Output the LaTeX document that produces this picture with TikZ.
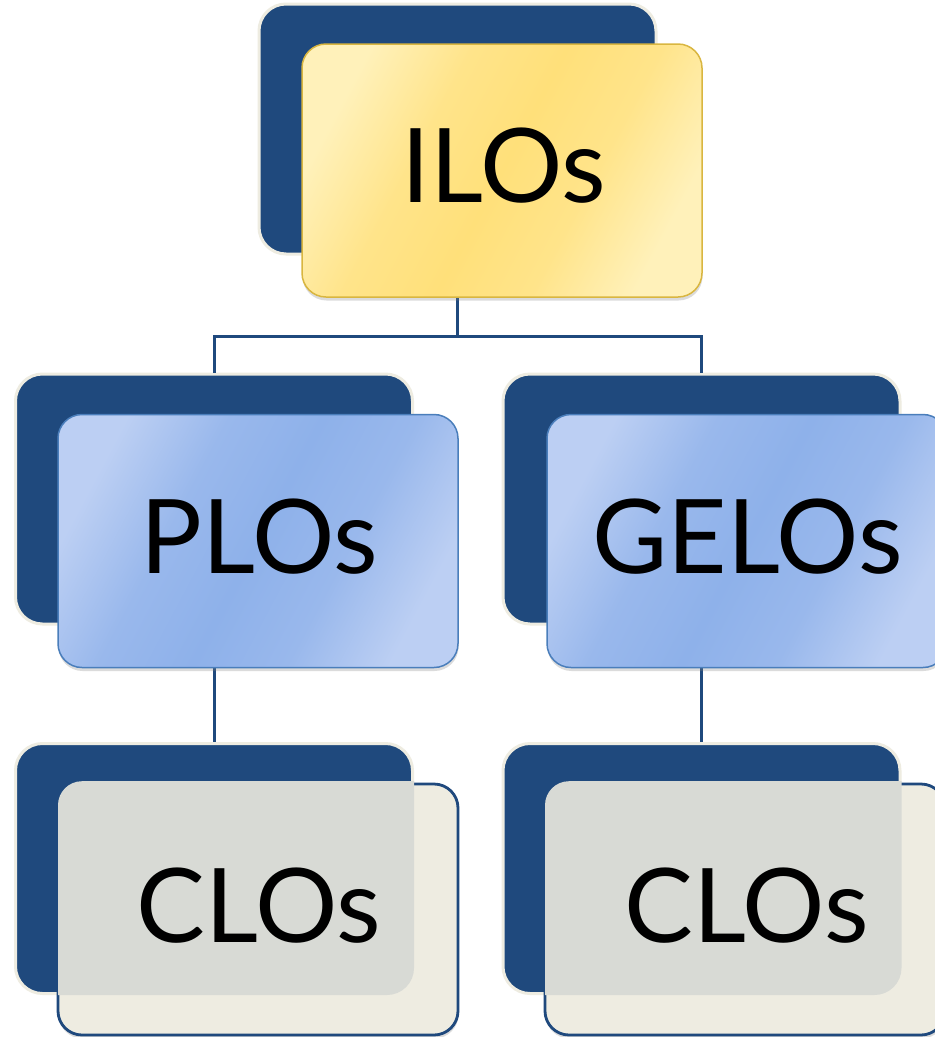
\documentclass[tikz,border=0pt]{standalone}
\usepackage{fontspec}
\setmainfont{Lato}
\usetikzlibrary{shadows}
\definecolor{navy}{HTML}{1F497D}
\definecolor{tanbg}{HTML}{EEECE1}
\definecolor{overgrey}{HTML}{D8DAD5}
\definecolor{ylight}{HTML}{FFF1BA}
\definecolor{ymid}{HTML}{FFE48A}
\definecolor{ydark}{HTML}{FFE07A}
\definecolor{yborder}{HTML}{D9B640}
\definecolor{blight}{HTML}{BCCFF3}
\definecolor{bmid}{HTML}{99B8EC}
\definecolor{bdark}{HTML}{8EB1EA}
\definecolor{bborder}{HTML}{4A7EBB}
\pgfdeclareverticalshading{yshade}{100bp}{color(0bp)=(ylight); color(25bp)=(ylight);
  color(38bp)=(ymid); color(50bp)=(ydark); color(62bp)=(ymid); color(75bp)=(ylight); color(100bp)=(ylight)}
\pgfdeclareverticalshading{bshade}{100bp}{color(0bp)=(blight); color(25bp)=(blight);
  color(38bp)=(bmid); color(50bp)=(bdark); color(62bp)=(bmid); color(75bp)=(blight); color(100bp)=(blight)}
\tikzset{
  backbox/.style={rectangle, rounded corners=27pt, fill=navy, draw=tanbg, line width=3pt,
    minimum width=397pt, minimum height=250pt, inner sep=0pt},
  frontbase/.style={rectangle, rounded corners=24pt, line width=1.5pt,
    minimum width=400pt, minimum height=253pt, inner sep=0pt,
    drop shadow={opacity=0.28, shadow xshift=0.5pt, shadow yshift=-3.5pt}},
  yellowbox/.style={frontbase, draw=yborder, shade, shading=yshade, shading angle=62},
  bluebox/.style={frontbase, draw=bborder, shade, shading=bshade, shading angle=62},
  tanbox/.style={frontbase, draw=navy, fill=tanbg, line width=2.8pt},
  label/.style={font=\fontsize{103}{103}\selectfont, text=black, inner sep=0pt},
  conn/.style={draw=navy, line width=3pt},
}
\begin{document}
\begin{tikzpicture}[x=1pt,y=-1pt]
\useasboundingbox (0,0) rectangle (935,1037);
\clip (0,0) rectangle (935,1037);
\fill[white] (0,0) rectangle (935,1037);

% back boxes
\node[backbox] (ilosB) at (457.5,129) {};
\node[backbox] (plosB) at (214,499) {};
\node[backbox] (gelosB) at (701.5,499) {};
\node[backbox] (closLB) at (214,868.5) {};
\node[backbox] (closRB) at (701.5,868.5) {};

% connectors
\coordinate (j) at (457.5,336);
\draw[conn] (457.5,297) -- (j);
\draw[conn] (plosB.north) |- (j) -| (gelosB.north);
\draw[conn] (214,668) -- (closLB.north);
\draw[conn] (701.5,668) -- (closRB.north);

% front boxes
\node[yellowbox] (ilosF) at (502,170.5) {};
\node[bluebox] (plosF) at (258,541) {};
\node[bluebox] (gelosF) at (747,541) {};
\node[tanbox, minimum height=251pt] (closLF) at (258,909.5) {};
\node[tanbox, minimum height=251pt] (closRF) at (745,909.5) {};

% overlap areas of the CLOs boxes
\begin{scope}
\clip[rounded corners=24pt] ([shift={(1.4pt,-1.4pt)}]closLF.south west) rectangle ([shift={(-1.4pt,1.4pt)}]closLF.north east);
\fill[overgrey, rounded corners=27pt] (closLB.south west) rectangle (closLB.north east);
\end{scope}
\begin{scope}
\clip[rounded corners=24pt] ([shift={(1.4pt,-1.4pt)}]closRF.south west) rectangle ([shift={(-1.4pt,1.4pt)}]closRF.north east);
\fill[overgrey, rounded corners=27pt] (closRB.south west) rectangle (closRB.north east);
\end{scope}

% texts
\node[label] (ilosT) at (504,166) {ILOs};
\node[label] (plosT) at (259.5,537) {PLOs};
\node[label] (gelosT) at (747.5,537) {GELOs};
\node[label] (closLT) at (259,906) {CLOs};
\node[label] (closRT) at (746.5,906) {CLOs};
\end{tikzpicture}
\end{document}
